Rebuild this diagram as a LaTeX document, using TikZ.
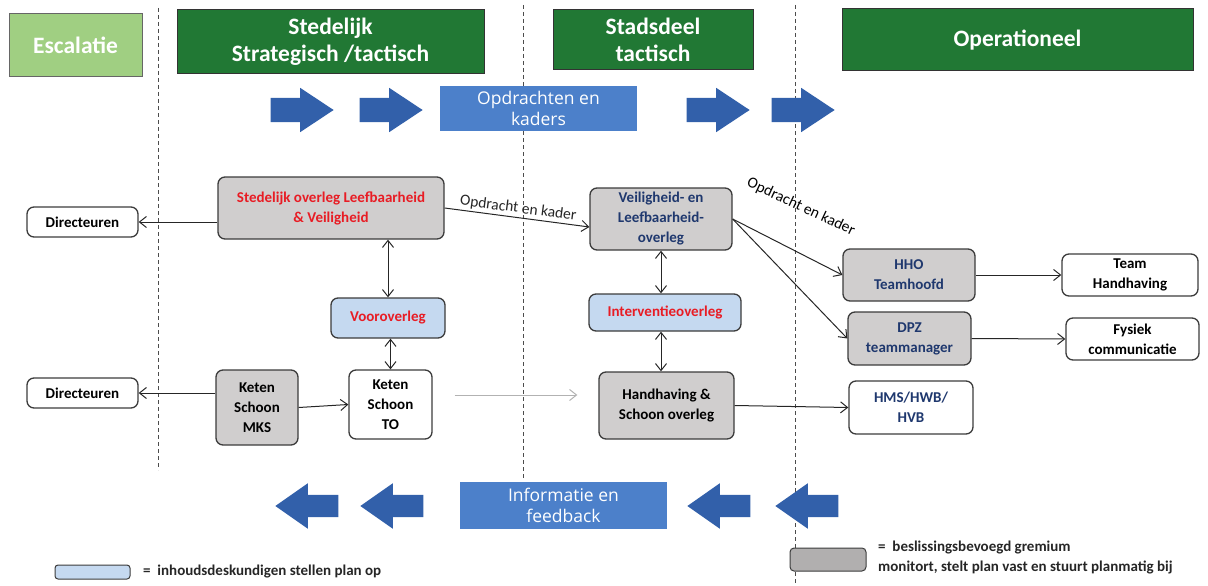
\documentclass[tikz,border=0pt]{standalone}
\usepackage{fontspec}
\setmainfont{Carlito}
\newfontfamily\bannerfont{Open Sans}
\usetikzlibrary{arrows.meta,shapes.arrows}

\definecolor{headgreen}{RGB}{33,120,52}
\definecolor{escgreen}{RGB}{160,207,130}
\definecolor{flowblue}{RGB}{50,96,170}
\definecolor{bannerblue}{RGB}{76,128,202}
\definecolor{gremiumgray}{RGB}{208,206,206}
\definecolor{expertblue}{RGB}{197,217,240}
\definecolor{overlegred}{RGB}{232,28,36}
\definecolor{teamblue}{RGB}{31,56,110}
\definecolor{boxline}{RGB}{60,60,60}

\begin{document}
\begin{tikzpicture}[%
    x=1pt, y=-1pt,
    >={Straight Barb[length=7pt,width=11pt]},
    font=\fontsize{15}{20}\selectfont\bfseries,
    box/.style={draw=boxline, line width=1.3pt, rounded corners=7pt, align=center, inner sep=2pt},
    gremium/.style={box, fill=gremiumgray},
    expert/.style={box, fill=expertblue, text=overlegred},
    plain/.style={box, fill=white},
    header/.style={draw=black!80, line width=1pt, fill=headgreen, text=white, align=center,
      font=\fontsize{23.5}{27}\selectfont\bfseries},
    banner/.style={fill=bannerblue, text=white, align=center, font=\bannerfont\fontsize{17.5}{21}\selectfont},
    flow/.style={single arrow, fill=flowblue, single arrow head extend=10pt, single arrow head indent=0pt,
      single arrow tip angle=67, inner xsep=0pt, inner ysep=12pt, minimum height=63pt, anchor=tip},
    back/.style={flow, shape border rotate=180, single arrow head extend=11.5pt, single arrow tip angle=70,
      inner ysep=11pt, minimum height=63pt},
    divider/.style={dash pattern=on 4pt off 3pt, line width=1pt, black!70},
    link/.style={line width=1pt, black!85},
    faint/.style={line width=1pt, black!30},
    lbl/.style={font=\fontsize{15.5}{17}\selectfont, inner sep=2pt},
    legend/.style={font=\fontsize{15}{17}\selectfont\bfseries, text=black!85, anchor=west, inner sep=0pt}
  ]
    \useasboundingbox (0,0) rectangle (1208,586);

    % columns
    \draw[divider] (158,8) -- (158,470);
    \draw[divider] (523,5) -- (523,480);
    \draw[divider] (795,5) -- (795,586);

    \node[header, fill=escgreen, draw=black!60, minimum width=133pt, minimum height=63pt] (esc) at (75.5,45.5) {Escalatie};
    \node[header, minimum width=307pt, minimum height=64pt] (sted) at (330.5,42) {Stedelijk\\Strategisch /tactisch};
    \node[header, minimum width=200pt, minimum height=60pt] (stads) at (653,40) {Stadsdeel\\tactisch};
    \node[header, minimum width=351pt, minimum height=62pt] (oper) at (1017.5,40) {Operationeel};

    % opdrachten en kaders
    \node[flow] (r1) at (334,110) {};
    \node[flow] (r2) at (423,110) {};
    \node[banner, minimum width=197pt, minimum height=45pt] (opdr) at (538.5,108.5) {Opdrachten en\\kaders};
    \node[flow] (r3) at (750,110) {};
    \node[flow] (r4) at (835,110) {};

    % informatie en feedback
    \node[back] (l1) at (275,506) {};
    \node[back] (l2) at (360,506) {};
    \node[banner, minimum width=207pt, minimum height=47pt] (info) at (563.5,505.5) {Informatie en\\feedback};
    \node[back] (l3) at (687,506) {};
    \node[back] (l4) at (775,506) {};

    % overleggen
    \node[plain, minimum width=111pt, minimum height=30pt] (dir1) at (82.5,222) {Directeuren};
    \node[gremium, text=overlegred, minimum width=226pt, minimum height=62pt] (slv) at (331,208)
      {Stedelijk overleg Leefbaarheid\\\& Veiligheid};
    \node[expert, minimum width=114pt, minimum height=40pt] (voor) at (388,318) {Vooroverleg};
    \node[gremium, minimum width=82pt, minimum height=75pt] (mks) at (257,407.5) {Keten\\Schoon\\MKS};
    \node[plain, minimum width=83pt, minimum height=69pt] (to) at (390.5,404.5) {Keten\\Schoon\\TO};
    \node[plain, minimum width=111pt, minimum height=30pt] (dir2) at (82.5,393) {Directeuren};

    \node[gremium, text=teamblue, minimum width=142pt, minimum height=62pt] (vlo) at (661,219)
      {Veiligheid- en\\Leefbaarheid-\\overleg};
    \node[expert, minimum width=152pt, minimum height=37pt] (int) at (665,312.5) {Interventieoverleg};
    \node[gremium, minimum width=135pt, minimum height=67pt] (hso) at (666.5,405.5) {Handhaving \&\\Schoon overleg};

    \node[gremium, text=teamblue, minimum width=132pt, minimum height=52pt] (hho) at (909,275) {HHO\\Teamhoofd};
    \node[gremium, text=teamblue, minimum width=123pt, minimum height=53pt] (dpz) at (909.5,338.5) {DPZ\\teammanager};
    \node[plain, text=teamblue, minimum width=124pt, minimum height=53pt] (hms) at (911,407.5) {HMS/HWB/\\HVB};
    \node[plain, minimum width=136pt, minimum height=42pt] (team) at (1130,275) {Team\\Handhaving};
    \node[plain, minimum width=133pt, minimum height=42pt] (fys) at (1132.5,339) {Fysiek\\communicatie};

    \path[link, ->] (slv.west |- dir1) edge (dir1.east)
                    (mks.west |- dir2) edge (dir2.east)
                    (mks.east)         edge (to.west)
                    (slv.east)         edge node[lbl, sloped, above] {Opdracht en kader} ([yshift=-8pt]vlo.west)
                    (vlo.east)         edge (hho.west)
                    (vlo.east)         edge (dpz.west)
                    (hso.east)         edge (hms.west)
                    (hho.east)         edge (team.west)
                    (dpz.east)         edge (fys.west);
    \path[link, <->] (voor.north) edge (voor.north |- slv.south)
                     (to.north)   edge (to.north |- voor.south)
                     (vlo.south)  edge (vlo.south |- int.north)
                     (vlo.south |- int.south) edge (vlo.south |- hso.north);
    \draw[faint, ->, shorten <=22pt, shorten >=21pt] ([yshift=9.5pt]to.east) -- ([yshift=9.5pt]to.east -| hso.west);
    \node[lbl, rotate=-25] (kader) at (801,207) {Opdracht en kader};

    % legenda
    \node[box, fill=expertblue, rounded corners=3pt, line width=1pt, minimum width=75pt, minimum height=14pt] (lgblue) at (92.5,572) {};
    \node[legend] (lgbluetxt) at (143,572) {=\ \ inhoudsdeskundigen stellen plan op};
    \node[box, fill=gremiumgray!85!black, rounded corners=4pt, line width=1pt, minimum width=76pt, minimum height=23pt] (lggray) at (828,559.5) {};
    \node[legend] (lggraytxt) at (878,548) {=\ \ beslissingsbevoegd gremium};
    \node[legend] (lggraytxt2) at (878,567) {monitort, stelt plan vast en stuurt planmatig bij};
  \end{tikzpicture}
\end{document}
